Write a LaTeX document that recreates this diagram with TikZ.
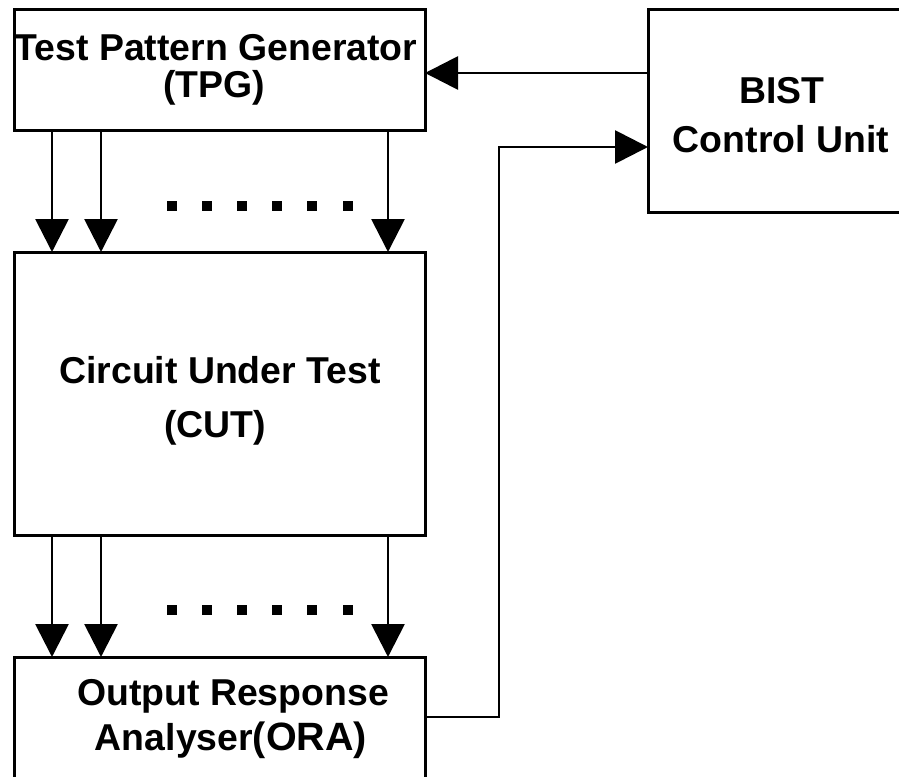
\documentclass[tikz,border=0pt]{standalone}
\usepackage{fontspec}
\setmainfont{Liberation Sans}
\usetikzlibrary{arrows.meta}
\begin{document}
\begin{tikzpicture}[x=1pt,y=-1pt,
  blockbox/.style={draw=black,line width=3pt,fill=white,inner sep=0pt,outer sep=0pt},
  lbl/.style={anchor=base,inner sep=0pt,font=\bfseries\fontsize{37.4}{40}\selectfont},
  conn/.style={line width=2.8pt,-{Triangle[length=33pt,width=33pt]}},
  dotsq/.style={fill=black}]
\useasboundingbox (0,0) rectangle (899,776);
\clip (0,0) rectangle (899,776);
% blocks
\node[blockbox,minimum width=411pt,minimum height=120pt] (tpg) at (219.5,70) {};
\node[blockbox,minimum width=411pt,minimum height=283pt] (cut) at (219.5,393.5) {};
\node[blockbox,minimum width=411pt,minimum height=150pt] (ora) at (219.5,732) {};
\node[blockbox,minimum width=268pt,minimum height=202pt] (bist) at (782,111) {};
% labels
\node[lbl] (tpgA) at (216,60) {Test Pattern Generator};
\node[lbl] (tpgB) at (214,97) {(TPG)};
\node[lbl] (cutA) at (220,383) {Circuit Under Test};
\node[lbl] (cutB) at (215,437) {(CUT)};
\node[lbl] (bistA) at (782,103) {BIST};
\node[lbl] (bistB) at (781,152) {Control Unit};
\node[lbl] (oraA) at (233,705) {Output Response};
\node[lbl] (oraB) at (231,750) {Analyser{\fontsize{39.5}{40}\selectfont(ORA)}};
% column positions
\coordinate (c1) at (52,0);
\coordinate (c2) at (101,0);
\coordinate (c3) at (388,0);
% TPG -> CUT and CUT -> ORA
\foreach \c in {c1,c2,c3} {
  \draw[conn] (tpg.south -| \c) -- (cut.north -| \c);
  \draw[conn] (cut.south -| \c) -- (ora.north -| \c);
}
% dots
\foreach \x in {172,207,242,277,312,348} {
  \fill[dotsq] (\x-5,201) rectangle (\x+5,211);
  \fill[dotsq] (\x-5,605) rectangle (\x+5,615);
}
% BIST -> TPG
\coordinate (ctrlY) at (0,73);
\draw[conn] (bist.west |- ctrlY) -- (tpg.east |- ctrlY);
% ORA -> BIST feedback
\coordinate (fbY) at (0,717);
\coordinate (fbX) at (499,147);
\draw[conn] (ora.east |- fbY) -| (fbX) -- (bist.west |- fbX);
\end{tikzpicture}
\end{document}
